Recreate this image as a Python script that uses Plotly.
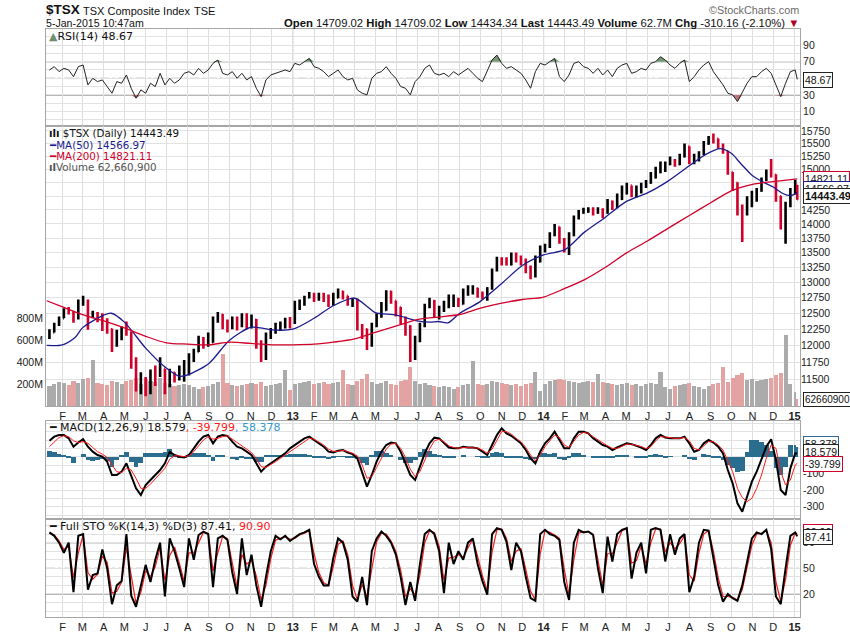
import numpy as np
import pandas as pd
import plotly.graph_objects as go

W, H = 850, 633

# weekly sessions (Fridays) + last session 5-Jan-2015
dates = list(pd.date_range('2012-01-13', '2015-01-02', freq='W-FRI')) + [pd.Timestamp('2015-01-05')]

# ---- $TSX weekly close / high / low
closes = [12200, 12320, 12420, 12550, 12520, 12420, 12680, 12700, 12450, 12500,
          12420, 12380, 12250, 12000, 12150, 12230, 12200, 11800, 11400, 11450,
          11300, 11600, 11550, 11650, 11500, 11600, 11500, 11600, 11700, 11800,
          11900, 12100, 12000, 12050, 12400, 12480, 12350, 12300, 12400, 12300,
          12420, 12320, 12400, 12050, 11800, 12150, 12200, 12250, 12300, 12380,
          12350, 12650, 12650, 12750, 12800, 12770, 12780, 12750, 12650, 12750,
          12850, 12780, 12700, 12720, 12300, 12250, 12000, 12300, 12450, 12550,
          12850, 12700, 12600, 12350, 12300, 11800, 12100, 12300, 12600, 12700,
          12500, 12550, 12600, 12650, 12700, 12650, 12800, 12850, 12900, 12800,
          12750, 12900, 13200, 13380, 13350, 13300, 13450, 13400, 13350, 13200,
          13100, 13350, 13600, 13600, 13800, 13950, 13700, 13650, 13800, 14100,
          14200, 14220, 14250, 14200, 14250, 14200, 14400, 14300, 14450, 14550,
          14700, 14550, 14600, 14700, 14750, 14850, 14950, 15100, 15100, 15150,
          15100, 15250, 15450, 15150, 15200, 15300, 15500, 15620, 15600, 15450,
          15350, 14950, 14750, 14250, 14200, 14400, 14550, 14600, 14800, 14950,
          14900, 14500, 13950, 14350, 14550, 14750, 14443.49]
highs = [12250, 12350, 12450, 12580, 12600, 12530, 12720, 12780, 12720, 12540,
         12520, 12500, 12420, 12260, 12240, 12290, 12370, 12210, 11820, 11600,
         11530, 11640, 11700, 11820, 11650, 11650, 11600, 11700, 11780, 11880,
         11950, 12150, 12130, 12200, 12450, 12520, 12490, 12400, 12450, 12450,
         12500, 12500, 12480, 12410, 12080, 12200, 12270, 12350, 12370, 12430,
         12440, 12700, 12720, 12780, 12840, 12830, 12830, 12830, 12800, 12830,
         12900, 12860, 12780, 12750, 12730, 12330, 12260, 12350, 12500, 12680,
         12870, 12860, 12700, 12600, 12450, 12310, 12150, 12350, 12650, 12750,
         12710, 12620, 12700, 12800, 12800, 12750, 12900, 12950, 12950, 12910,
         12850, 12920, 13230, 13430, 13420, 13420, 13500, 13500, 13450, 13400,
         13280, 13450, 13620, 13650, 13850, 14000, 13950, 13750, 13850, 14150,
         14250, 14290, 14300, 14300, 14300, 14280, 14450, 14420, 14550, 14700,
         14750, 14700, 14700, 14750, 14800, 14950, 15050, 15150, 15150, 15250,
         15200, 15300, 15500, 15450, 15300, 15350, 15550, 15650, 15700, 15600,
         15500, 15360, 14950, 14760, 14350, 14500, 14600, 14650, 14850, 15000,
         15200, 14910, 14510, 14400, 14650, 14800, 14709.02]
lows = [12100, 12200, 12300, 12420, 12480, 12350, 12400, 12620, 12240, 12420,
        12360, 12220, 12180, 11900, 11980, 12080, 12150, 11650, 11320, 11280,
        11250, 11280, 11400, 11530, 11280, 11380, 11450, 11480, 11460, 11550,
        11750, 11900, 11950, 11980, 12040, 12350, 12250, 12200, 12250, 12230,
        12280, 12250, 12260, 11950, 11750, 11780, 12100, 12180, 12220, 12260,
        12260, 12330, 12550, 12620, 12740, 12680, 12700, 12680, 12600, 12620,
        12740, 12720, 12620, 12600, 12230, 12100, 11930, 11980, 12280, 12430,
        12540, 12650, 12450, 12330, 12150, 11750, 11780, 12050, 12280, 12580,
        12430, 12400, 12520, 12580, 12600, 12600, 12640, 12780, 12800, 12750,
        12720, 12700, 12880, 13180, 13280, 13280, 13280, 13330, 13280, 13150,
        13050, 13080, 13330, 13500, 13580, 13780, 13650, 13500, 13460, 13780,
        14080, 14180, 14200, 14150, 14180, 14100, 14180, 14250, 14280, 14430,
        14530, 14480, 14480, 14550, 14650, 14730, 14830, 14930, 14950, 15080,
        15050, 15080, 15230, 15100, 15100, 15150, 15280, 15480, 15500, 15400,
        15300, 14900, 14600, 14150, 13680, 14150, 14300, 14400, 14580, 14780,
        14850, 14400, 13900, 13650, 14300, 14530, 14434.34]
first_open = 12150
last_open = 14709.02

# ---- daily volume, millions (typical level per week)
volume_m = [180, 200, 220, 210, 190, 230, 210, 250, 260, 420,
            210, 200, 190, 230, 220, 200, 230, 240, 260, 200,
            250, 230, 220, 260, 210, 200, 180, 190, 200, 190,
            170, 160, 170, 180, 200, 220, 480, 210, 190, 180,
            190, 200, 210, 200, 220, 180, 190, 200, 210, 330,
            150, 200, 210, 220, 230, 200, 210, 220, 200, 210,
            220, 330, 200, 190, 230, 250, 290, 220, 200, 210,
            230, 200, 190, 230, 240, 360, 230, 200, 210, 190,
            180, 170, 180, 170, 160, 170, 190, 200, 410, 200,
            190, 200, 230, 220, 210, 200, 190, 200, 180, 200,
            210, 310, 140, 200, 230, 240, 250, 240, 230, 220,
            210, 220, 230, 220, 290, 220, 210, 200, 190, 200,
            210, 190, 200, 180, 200, 210, 200, 310, 170, 160,
            180, 190, 200, 210, 180, 170, 160, 180, 200, 210,
            360, 220, 260, 280, 300, 240, 250, 230, 240, 250,
            260, 280, 300, 650, 200, 130, 62.66]

# ---- moving averages (read at a few dates)
ma50_dates = ['2012-01-09', '2012-02-01', '2012-02-20', '2012-03-01', '2012-04-01', '2012-04-12',
              '2012-05-01', '2012-06-01', '2012-07-01', '2012-07-20', '2012-08-01', '2012-09-01',
              '2012-10-01', '2012-11-01', '2012-11-15', '2012-12-01', '2013-01-01', '2013-02-01',
              '2013-03-01', '2013-04-01', '2013-04-20', '2013-05-01', '2013-06-01', '2013-07-01',
              '2013-07-20', '2013-08-01', '2013-08-15', '2013-09-01', '2013-10-01', '2013-11-01',
              '2013-12-01', '2014-01-01', '2014-02-01', '2014-03-01', '2014-04-01', '2014-05-01',
              '2014-06-01', '2014-07-01', '2014-08-01', '2014-08-25', '2014-09-15', '2014-10-01',
              '2014-10-15', '2014-11-01', '2014-11-15', '2014-12-01', '2014-12-15', '2014-12-26',
              '2015-01-05']
ma50 = [12000, 12010, 12130, 12270, 12470, 12500, 12360, 11960, 11660, 11540, 11560, 11730,
        12080, 12280, 12270, 12240, 12250, 12420, 12620, 12740, 12600, 12510, 12470, 12380,
        12360, 12370, 12350, 12500, 12690, 12980, 13280, 13460, 13550, 13850, 14120, 14400,
        14560, 14780, 15070, 15290, 15400, 15310, 15110, 14880, 14770, 14670, 14550, 14510,
        14566.97]
ma200_dates = ['2012-01-09', '2012-02-01', '2012-03-01', '2012-04-01', '2012-05-01', '2012-06-01',
               '2012-07-01', '2012-08-01', '2012-09-01', '2012-10-01', '2012-11-01', '2012-12-01',
               '2013-01-01', '2013-02-01', '2013-03-01', '2013-04-01', '2013-05-01', '2013-06-01',
               '2013-07-01', '2013-08-01', '2013-09-01', '2013-10-01', '2013-11-01', '2013-12-01',
               '2014-01-01', '2014-02-01', '2014-03-01', '2014-04-01', '2014-05-01', '2014-06-01',
               '2014-07-01', '2014-08-01', '2014-09-01', '2014-10-01', '2014-11-01', '2014-12-01',
               '2015-01-05']
ma200 = [12700, 12600, 12480, 12380, 12270, 12140, 12040, 12020, 12010, 12050, 12030, 12010,
         12010, 12020, 12050, 12100, 12200, 12300, 12400, 12440, 12480, 12580, 12660, 12720,
         12760, 12900, 13040, 13250, 13490, 13700, 13920, 14150, 14380, 14600, 14720, 14770,
         14821.11]

# ---- RSI(14)
rsi = [60, 64, 58, 62, 60, 52, 64, 66, 42, 50,
       46, 48, 40, 32, 46, 44, 54, 38, 26, 36,
       32, 44, 40, 56, 42, 50, 44, 48, 56, 58,
       54, 62, 56, 60, 68, 72, 56, 54, 58, 50,
       56, 48, 52, 38, 28, 48, 54, 56, 58, 60,
       58, 68, 66, 70, 74, 64, 62, 58, 52, 56,
       60, 52, 48, 50, 36, 32, 30, 50, 56, 58,
       64, 56, 50, 40, 38, 30, 46, 52, 62, 66,
       56, 54, 56, 52, 58, 54, 58, 62, 56, 50,
       46, 58, 72, 78, 68, 62, 64, 60, 56, 48,
       38, 58, 68, 66, 70, 74, 52, 46, 54, 68,
       70, 64, 62, 56, 62, 54, 60, 52, 62, 66,
       68, 56, 58, 62, 60, 68, 70, 76, 72, 66,
       62, 68, 72, 46, 52, 60, 66, 70, 58, 50,
       42, 32, 30, 22, 34, 44, 52, 52, 58, 62,
       56, 42, 28, 44, 58, 60, 48.67]

# ---- MACD(12,26,9): macd line and signal line
macd = [95, 120, 130, 130, 110, 60, 85, 105, 60, 30,
        10, 0, -30, -110, -110, -90, -40, -110, -190, -230,
        -170, -140, -110, -80, -40, 30, 10, 0, -5, 10,
        50, 90, 120, 130, 80, 120, 130, 125, 90, 60,
        50, 30, 10, -40, -90, -60, -40, -20, 0, 20,
        50, 70, 90, 110, 120, 100, 80, 60, 30, 25,
        35, 40, 25, 15, -10, -90, -180, -110, -30, 30,
        70, 85, 80, 30, -40, -110, -140, -60, 20, 80,
        114, 110, 80, 55, 50, 50, 60, 55, 55, 50,
        30, 10, 70, 130, 170, 140, 125, 100, 80, 40,
        -10, -40, 30, 80, 110, 150, 100, 50, 50, 110,
        150, 150, 140, 110, 90, 70, 60, 40, 55, 70,
        80, 75, 65, 55, 40, 70, 110, 130, 115, 110,
        110, 110, 120, 80, 30, 40, 80, 100, 85, 60,
        20, -80, -160, -280, -330, -240, -150, -90, -20, 60,
        105, -20, -200, -230, -70, 20, 18.579]
macd_signal = [60, 90, 115, 125, 120, 95, 85, 90, 80, 55,
               30, 15, -5, -50, -90, -95, -70, -80, -130, -190,
               -190, -165, -135, -105, -70, -15, 5, 5, 0, 5,
               30, 65, 100, 120, 105, 110, 120, 125, 105, 80,
               60, 45, 25, -10, -60, -65, -50, -30, -10, 10,
               35, 55, 75, 95, 110, 105, 90, 70, 45, 32,
               32, 38, 30, 20, 5, -50, -130, -120, -65, -5,
               45, 75, 80, 50, -5, -75, -120, -90, -25, 45,
               95, 105, 90, 65, 55, 50, 55, 55, 55, 52,
               40, 20, 45, 100, 150, 150, 135, 110, 90, 55,
               10, -25, 10, 60, 95, 130, 115, 70, 55, 90,
               130, 145, 140, 120, 100, 80, 65, 50, 50, 62,
               75, 75, 68, 60, 48, 60, 95, 120, 118, 112,
               110, 110, 115, 95, 50, 40, 65, 90, 90, 70,
               40, -30, -90, -190, -245, -270, -250, -190, -110, -10,
               70, 50, -90, -170, -140, -50, -39.799]

# ---- Full STO %K(14,3) %D(3)
sto_k = [92, 88, 80, 68, 80, 22, 88, 90, 25, 42,
         44, 72, 50, 8, 30, 35, 90, 18, 5, 30,
         54, 34, 60, 80, 17, 85, 70, 50, 28, 85,
         60, 89, 93, 90, 28, 85, 88, 83, 45, 20,
         85, 42, 66, 30, 5, 40, 70, 88, 84, 88,
         82, 86, 90, 92, 95, 55, 40, 30, 30, 62,
         85, 80, 60, 17, 11, 40, 7, 70, 85, 93,
         88, 80, 66, 40, 7, 34, 12, 55, 90, 95,
         90, 70, 21, 80, 55, 70, 60, 80, 85, 55,
         35, 19, 90, 97, 95, 81, 48, 80, 70, 40,
         15, 12, 90, 95, 90, 88, 83, 34, 13, 80,
         95, 92, 93, 89, 50, 21, 87, 58, 90, 95,
         97, 38, 68, 80, 44, 95, 97, 95, 58, 90,
         66, 85, 90, 22, 40, 80, 95, 94, 60, 30,
         11, 20, 15, 12, 30, 58, 85, 92, 90, 95,
         73, 17, 8, 50, 88, 92, 87.41]
sto_d = [91, 89, 82, 72, 76, 39, 68, 89, 45, 37,
         43, 64, 57, 21, 23, 34, 74, 40, 9, 22,
         47, 40, 52, 74, 36, 65, 75, 56, 35, 68,
         68, 80, 92, 91, 47, 68, 87, 85, 56, 28,
         66, 55, 59, 41, 13, 30, 61, 83, 85, 87,
         84, 85, 89, 91, 94, 67, 45, 33, 30, 52,
         78, 82, 66, 30, 13, 31, 17, 51, 81, 91,
         90, 82, 70, 48, 17, 26, 19, 42, 80, 94,
         92, 76, 36, 62, 63, 66, 63, 74, 84, 64,
         41, 24, 69, 95, 96, 85, 58, 70, 73, 49,
         23, 13, 67, 94, 92, 89, 85, 49, 19, 60,
         91, 93, 93, 90, 62, 30, 67, 67, 80, 94,
         96, 56, 59, 76, 55, 80, 96, 96, 69, 80,
         73, 79, 88, 42, 35, 68, 90, 94, 70, 39,
         17, 17, 16, 13, 25, 50, 77, 90, 91, 94,
         80, 34, 11, 37, 77, 91, 90.90]

n = len(dates)
for name, arr in [('closes', closes), ('highs', highs), ('lows', lows), ('volume', volume_m),
                  ('rsi', rsi), ('macd', macd), ('signal', macd_signal), ('k', sto_k), ('d', sto_d)]:
    assert len(arr) == n, (name, len(arr), n)

opens = [first_open] + closes[:-1]
opens[-1] = last_open
down = [c < o for c, o in zip(closes, opens)]
hist = [m - s for m, s in zip(macd, macd_signal)]

# month ticks: F M A ... and bold years
month_ticks = pd.date_range('2012-02-01', '2015-01-01', freq='MS')
tick_text = ['<b>%s</b>' % d.strftime('%y') if d.month == 1 else d.strftime('%b')[0] for d in month_ticks]
x_range = ['2012-01-08', '2015-01-09']
DAY = 86400000

# price ticks; the two hidden behind the value boxes stay unlabeled
price_ticks = list(range(11500, 15751, 250))
price_text = ['' if v in (14500, 14750) else str(v) for v in price_ticks]

def py(y):
    return 1 - y / H

X0, X1 = 46 / W, 800 / W
dom_rsi = [py(126), py(29)]
dom_px = [py(406), py(126)]
dom_macd = [py(519), py(421)]
dom_sto = [py(617), py(519)]

ARIAL = 'Liberation Sans, Arial'
VERD = 'DejaVu Sans, Verdana'
RED = '#d0002a'
NAVY = '#1c1c8c'

fig = go.Figure()

# ---------------- RSI
fig.add_trace(go.Scatter(x=dates, y=[70] * n, xaxis='x', yaxis='y', mode='lines',
                         line=dict(width=0), hoverinfo='skip'))
fig.add_trace(go.Scatter(x=dates, y=np.maximum(rsi, 70), xaxis='x', yaxis='y', mode='lines',
                         line=dict(width=0), fill='tonexty', fillcolor='#739873'))
fig.add_trace(go.Scatter(x=dates, y=[30] * n, xaxis='x', yaxis='y', mode='lines',
                         line=dict(width=0), hoverinfo='skip'))
fig.add_trace(go.Scatter(x=dates, y=np.minimum(rsi, 30), xaxis='x', yaxis='y', mode='lines',
                         line=dict(width=0), fill='tonexty', fillcolor='#b97575'))
fig.add_trace(go.Scatter(x=dates, y=rsi, xaxis='x', yaxis='y', mode='lines',
                         line=dict(color='#222222', width=1)))

# ---------------- price + volume
vol_w = [6 * DAY] * (n - 2) + [2.5 * DAY, 2.5 * DAY]
fig.add_trace(go.Bar(x=dates, y=[v * 1e6 for v in volume_m], xaxis='x2', yaxis='y2',
                     marker=dict(color=['#e4a3a3' if d else '#ababab' for d in down], line=dict(width=0)),
                     width=vol_w))
fig.add_trace(go.Ohlc(x=dates, open=opens, high=highs, low=lows, close=closes,
                      xaxis='x2', yaxis='y3', tickwidth=0.4,
                      increasing=dict(line=dict(color='black', width=2.6)),
                      decreasing=dict(line=dict(color=RED, width=2.6))))
fig.add_trace(go.Scatter(x=ma50_dates, y=ma50, xaxis='x2', yaxis='y3', mode='lines',
                         line=dict(color=NAVY, width=1.3, shape='spline', smoothing=0.8)))
fig.add_trace(go.Scatter(x=ma200_dates, y=ma200, xaxis='x2', yaxis='y3', mode='lines',
                         line=dict(color=RED, width=1.3, shape='spline', smoothing=0.8)))

# ---------------- MACD
fig.add_trace(go.Bar(x=dates, y=hist, xaxis='x3', yaxis='y4',
                     marker=dict(color='#2a6d8f', line=dict(width=0)), width=[7 * DAY] * (n - 2) + [3 * DAY] * 2))
fig.add_trace(go.Scatter(x=dates, y=macd, xaxis='x3', yaxis='y4', mode='lines',
                         line=dict(color='black', width=2)))
fig.add_trace(go.Scatter(x=dates, y=macd_signal, xaxis='x3', yaxis='y4', mode='lines',
                         line=dict(color='#ff1a1a', width=1)))

# ---------------- Full STO
fig.add_trace(go.Scatter(x=dates, y=sto_d, xaxis='x4', yaxis='y5', mode='lines',
                         line=dict(color='#ff1a1a', width=1.2)))
fig.add_trace(go.Scatter(x=dates, y=sto_k, xaxis='x4', yaxis='y5', mode='lines',
                         line=dict(color='black', width=2)))

# axes
def xax(anchor, labels):
    return dict(type='date', range=x_range, domain=[X0, X1], anchor=anchor, automargin=False,
                tickmode='array', tickvals=month_ticks, ticktext=tick_text,
                showticklabels=labels, ticks='', showgrid=True, gridcolor='#dedede',
                showline=True, linecolor='#a6a6a6', mirror=True, zeroline=False,
                tickfont=dict(family=ARIAL, size=11, color='#222'),
                rangeslider=dict(visible=False))

grid = '#e2e2e2'
tickf = dict(family=ARIAL, size=10.5, color='#222')

layout = dict(
    template='none',
    width=W, height=H, margin=dict(l=0, r=0, t=0, b=0, autoexpand=False),
    font=dict(family=ARIAL, size=11, color='#222'),
    paper_bgcolor='white', plot_bgcolor='white', showlegend=False, bargap=0,
    xaxis=xax('y', False), xaxis2=xax('y2', True), xaxis3=xax('y4', False), xaxis4=xax('y5', True),
    yaxis=dict(domain=dom_rsi, range=[-7.5, 109.4], side='right', anchor='x', automargin=False,
               tickmode='array', tickvals=list(range(0, 101, 10)),
               ticktext=['', '10', '', '30', '', '', '', '70', '', '90', ''],
               showgrid=True, gridcolor=grid, zeroline=False, ticks='',
               showline=True, linecolor='#a6a6a6', mirror=True, tickfont=tickf),
    yaxis2=dict(domain=dom_px, range=[0, 2560e6], side='left', anchor='x2', automargin=False,
                tickmode='array', tickvals=[200e6, 400e6, 600e6, 800e6],
                ticktext=['200M', '400M', '600M', '800M'], showgrid=False, zeroline=False,
                ticks='', showline=True, linecolor='#a6a6a6', mirror=True, tickfont=tickf),
    yaxis3=dict(overlaying='y2', anchor='x2', side='right', type='log', automargin=False,
                range=[np.log10(11113), np.log10(15850)],
                tickmode='array', tickvals=price_ticks, ticktext=price_text,
                showgrid=True, gridcolor=grid, zeroline=False, ticks='', tickfont=tickf),
    yaxis4=dict(domain=dom_macd, range=[-374, 214], side='right', anchor='x3', automargin=False,
                tickmode='array', tickvals=list(range(-350, 201, 50)),
                ticktext=['' if v % 100 or v in (0, 200) else str(v) for v in range(-350, 201, 50)],
                showgrid=True, gridcolor=grid, zeroline=False, ticks='',
                showline=True, linecolor='#a6a6a6', mirror=True, tickfont=tickf),
    yaxis5=dict(domain=dom_sto, range=[-7, 107.7], side='right', anchor='x4', automargin=False,
                tickmode='array', tickvals=list(range(0, 101, 10)),
                ticktext=['', '', '20', '', '', '50', '', '', '80', '', ''],
                showgrid=True, gridcolor=grid, zeroline=False, ticks='',
                showline=True, linecolor='#a6a6a6', mirror=True, tickfont=tickf),
)
fig.update_layout(**layout)

# year separators and reference levels
shapes = []
for yr in ['2013-01-01', '2014-01-01', '2015-01-01']:
    for xa, ya in [('x', 'y'), ('x2', 'y2'), ('x3', 'y4'), ('x4', 'y5')]:
        shapes.append(dict(type='line', xref=xa, yref=ya + ' domain', x0=yr, x1=yr, y0=0, y1=1,
                           line=dict(color='#b5b5b5', width=1), layer='below'))
for ya, lv in [('y', 70), ('y', 30), ('y5', 80), ('y5', 20)]:
    shapes.append(dict(type='line', xref='x domain' if ya == 'y' else 'x4 domain', yref=ya,
                       x0=0, x1=1, y0=lv, y1=lv, line=dict(color='#707070', width=1.2), layer='below'))
for ya, xa in [('y', 'x domain'), ('y5', 'x4 domain')]:
    shapes.append(dict(type='line', xref=xa, yref=ya, x0=0, x1=1, y0=50, y1=50,
                       line=dict(color='#8a8a8a', width=1, dash='dashdot'), layer='below'))
shapes.append(dict(type='rect', xref='x2', yref='y3', x0='2015-01-03', x1='2015-01-04T12:00',
                   y0=14434.34, y1=14709.02, fillcolor='#ffe600', line=dict(width=0), layer='below'))
fig.update_layout(shapes=shapes)


def label(x, y, text, size=11, color='#111', family=VERD, xanchor='left', **kw):
    fig.add_annotation(x=x / W, y=py(y), xref='paper', yref='paper', text=text, showarrow=False,
                       xanchor=xanchor, yanchor='middle', font=dict(family=family, size=size, color=color), **kw)


# header
label(44, 10, '<b>$TSX</b>', size=13.5, family=ARIAL)
label(81, 11, 'TSX Composite Index', size=11, family=ARIAL)
label(192, 11, 'TSE', size=11, family=ARIAL)
label(44, 23, '5-Jan-2015 10:47am', size=10.6, family=ARIAL)
label(801, 10, '©StockCharts.com', size=10.8, family=ARIAL, color='#6a6a6a', xanchor='right')
label(801, 23, '<b>Open</b> 14709.02 <b>High</b> 14709.02 <b>Low</b> 14434.34 <b>Last</b> 14443.49 '
               '<b>Volume</b> 62.7M <b>Chg</b> -310.16 (-2.10%) <span style="color:#b0002a">▼</span>',
      size=11.3, family=ARIAL, xanchor='right')

# panel titles
label(47, 36, '<span style="color:#6d8f6d">▲</span>RSI(14) 48.67')
label(47, 133, '<b>ılı</b> $TSX (Daily) 14443.49', size=10.3)
label(47, 145, '<b>━</b>MA(50) 14566.97', size=10.3, color=NAVY)
label(47, 156, '<b>━</b>MA(200) 14821.11', size=10.3, color=RED)
label(47, 167, '<b>ıl</b>Volume 62,660,900', size=10.3, color='#555')
label(47, 428, '<b>━</b> MACD(12,26,9) 18.579<span style="color:#ff1a1a">, -39.799</span>'
               '<span style="color:#3399cc">, 58.378</span>')
label(47, 526, '<b>━</b> Full STO %K(14,3) %D(3) 87.41, <span style="color:#ff1a1a">90.90</span>')

# right-hand value boxes (stacked as in the original, latest value on top)
box = dict(bgcolor='white', borderwidth=1, borderpad=1)
label(803, 80, '48.67', size=10.5, family=ARIAL, bordercolor='#222', **box)
label(803, 179, '14821.11', size=10.5, family=ARIAL, bordercolor=RED, **box)
label(803, 189, '14566.97', size=10.5, family=ARIAL, bordercolor=NAVY, **box)
label(803, 196, '<b>14443.49</b>', size=11, family=ARIAL, bordercolor='#222', **box)
label(803, 399, '62660900', size=10, family=ARIAL, bordercolor='#222', **box)
label(803, 444, '58.378', size=10.5, family=ARIAL, bordercolor='#336699', **box)
label(803, 452, '18.579', size=10.5, family=ARIAL, bordercolor='#222', **box)
label(803, 464, '-39.799', size=10.5, family=ARIAL, bordercolor=RED, **box)
label(803, 532, '90.90', size=10.5, family=ARIAL, bordercolor=RED, **box)
label(803, 537, '87.41', size=10.5, family=ARIAL, bordercolor='#222', **box)

# the page body has a default 8px margin; drop it so the figure sits at the window's corner
fig.write_html("out.html", config={'displayModeBar': False},
               post_script="document.body.style.margin='0';")
